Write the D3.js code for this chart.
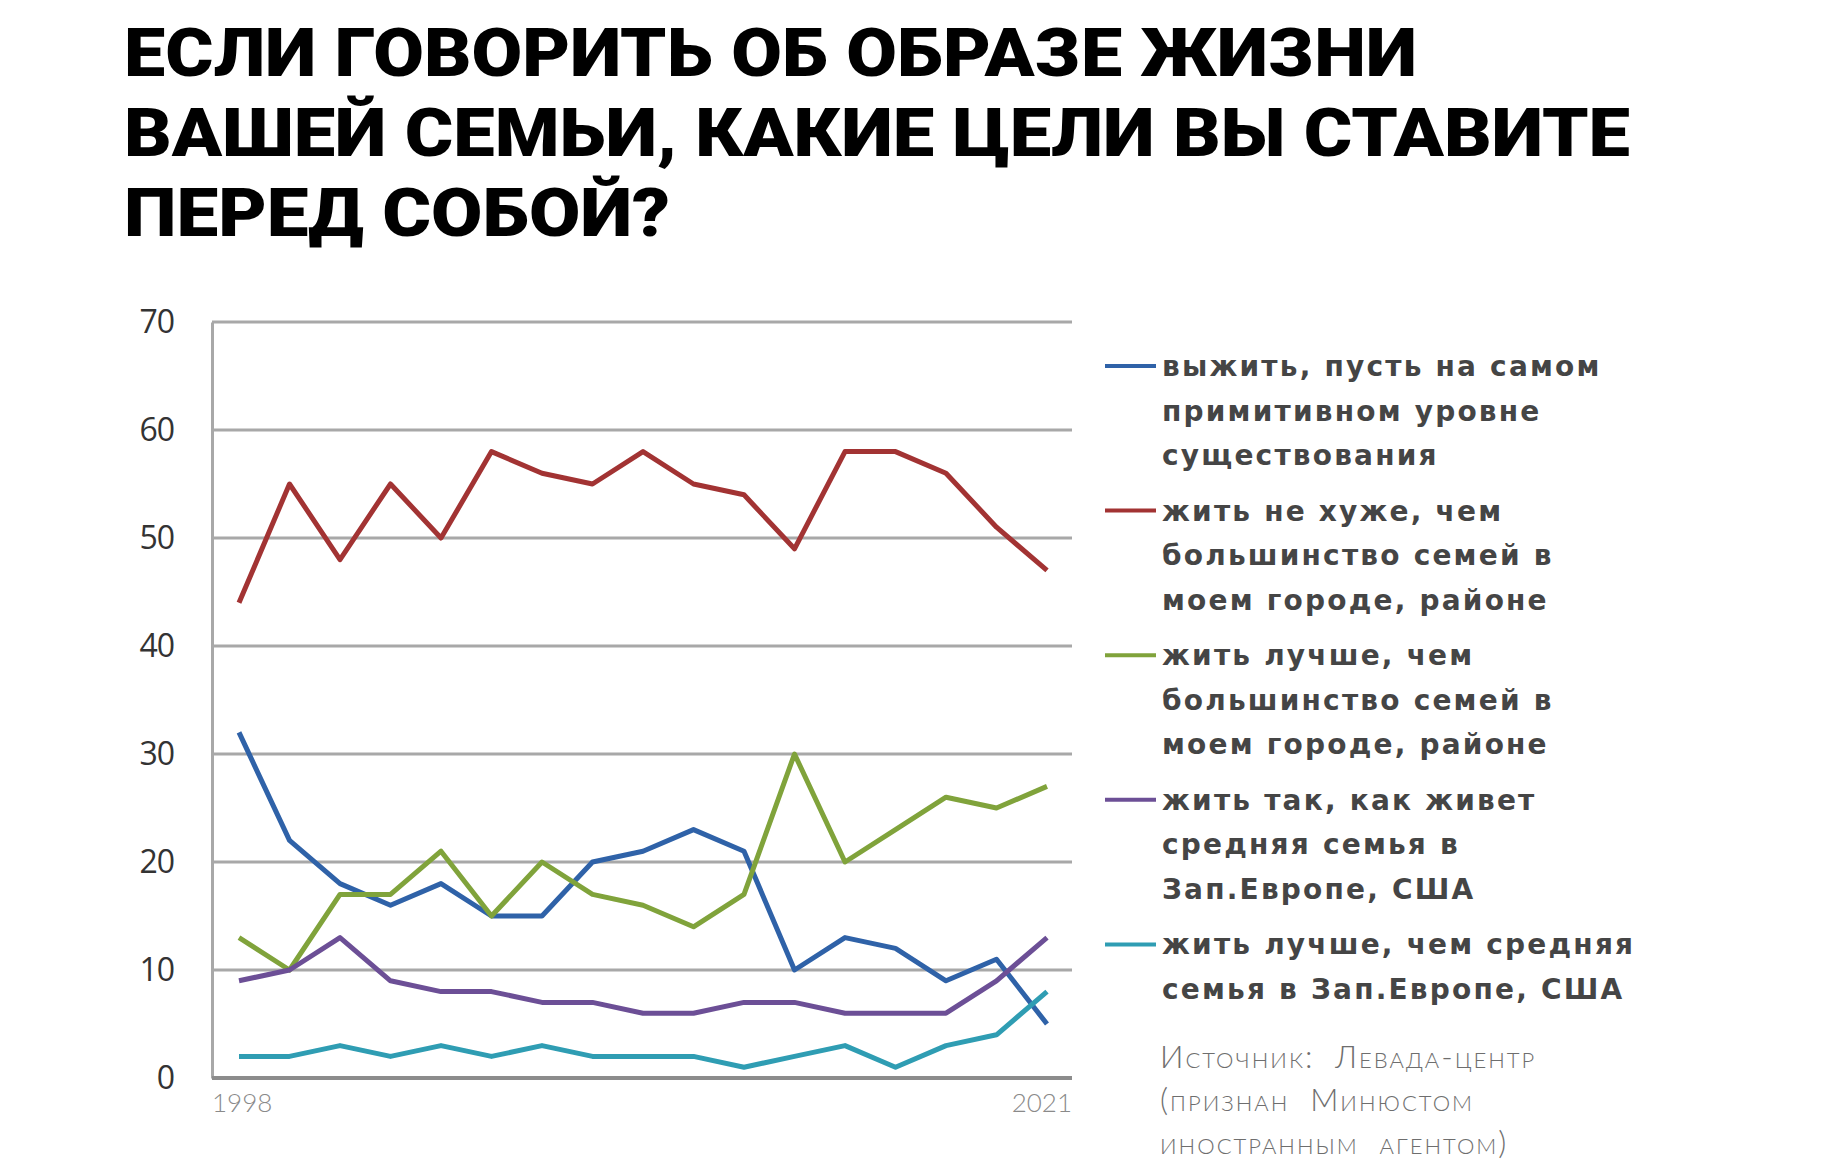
<!DOCTYPE html>
<html>
<head>
<meta charset="utf-8">
<script src="https://cdn.jsdelivr.net/npm/d3@7"></script>
<style>
  body { margin: 0; background: #fff; }
  svg { display: block; }
</style>
</head>
<body>
<script>
// survey waves from 1998 to 2021 (only the first and last are labelled)
var xLabels = ["1998", "", "", "", "", "", "", "", "", "", "", "", "", "", "", "", "2021"];
var yTicks = [0, 10, 20, 30, 40, 50, 60, 70];

var survive   = [32, 22, 18, 16, 18, 15, 15, 20, 21, 23, 21, 10, 13, 12, 9, 11, 5];
var notWorse  = [44, 55, 48, 55, 50, 58, 56, 55, 58, 55, 54, 49, 58, 58, 56, 51, 47];
var better    = [13, 10, 17, 17, 21, 15, 20, 17, 16, 14, 17, 30, 20, 23, 26, 25, 27];
var likeWest  = [9, 10, 13, 9, 8, 8, 7, 7, 6, 6, 7, 7, 6, 6, 6, 9, 13];
var betterWest = [2, 2, 3, 2, 3, 2, 3, 2, 2, 2, 1, 2, 3, 1, 3, 4, 8];

var titleLines = [
    "ЕСЛИ ГОВОРИТЬ ОБ ОБРАЗЕ ЖИЗНИ",
    "ВАШЕЙ СЕМЬИ, КАКИЕ ЦЕЛИ ВЫ СТАВИТЕ",
    "ПЕРЕД СОБОЙ?"
];
var titleWidths = [1293, 1506, 546];

var series = [
    {values: survive, color: "#2f62a8",
     label: ["выжить, пусть на самом", "примитивном уровне", "существования"]},
    {values: notWorse, color: "#a23333",
     label: ["жить не хуже, чем", "большинство семей в", "моем городе, районе"]},
    {values: better, color: "#80a33b",
     label: ["жить лучше, чем", "большинство семей в", "моем городе, районе"]},
    {values: likeWest, color: "#6c4f96",
     label: ["жить так, как живет", "средняя семья в", "Зап.Европе, США"]},
    {values: betterWest, color: "#2f9db3",
     label: ["жить лучше, чем средняя", "семья в Зап.Европе, США"]}
];

var sourceLines = ["Источник:  Левада-центр", "(признан  Минюстом", "иностранным  агентом)"];

var width = 1840, height = 1168;
var svg = d3.select("body").append("svg")
    .attr("width", width)
    .attr("height", height);

// title
svg.append("g").selectAll("text")
    .data(titleLines)
    .join("text")
    .attr("x", 124)
    .attr("y", (d, i) => 76 + i * 80)
    .attr("textLength", (d, i) => titleWidths[i])
    .attr("lengthAdjust", "spacingAndGlyphs")
    .attr("font-family", "Roboto, 'Liberation Sans', sans-serif")
    .attr("font-weight", 900)
    .attr("font-size", 66)
    .attr("fill", "#000")
    .text(d => d);

var plotLeft = 212, plotRight = 1072;
var x = d3.scalePoint()
    .domain(d3.range(xLabels.length))
    .range([239, 1047]);
var y = d3.scaleLinear()
    .domain([0, 70])
    .range([1078, 322]);

// gridlines
svg.append("g").selectAll("line")
    .data(yTicks.filter(d => d > 0))
    .join("line")
    .attr("x1", plotLeft)
    .attr("x2", plotRight)
    .attr("y1", d => y(d))
    .attr("y2", d => y(d))
    .attr("stroke", "#a8a8a8")
    .attr("stroke-width", 3);

// y axis
var yAxis = svg.append("g")
    .attr("transform", "translate(" + plotLeft + ",0)")
    .call(d3.axisLeft(y).tickValues(yTicks).tickSize(0).tickPadding(38));
yAxis.select(".domain")
    .attr("stroke", "#a8a8a8")
    .attr("stroke-width", 3);
yAxis.selectAll("text")
    .attr("font-family", "'Liberation Sans Narrow', 'Open Sans', sans-serif")
    .attr("font-size", 32)
    .attr("letter-spacing", -1)
    .attr("fill", "#333");

// bottom axis line
svg.append("line")
    .attr("x1", plotLeft)
    .attr("x2", plotRight)
    .attr("y1", y(0))
    .attr("y2", y(0))
    .attr("stroke", "#8c8c8c")
    .attr("stroke-width", 4);

// x labels
svg.append("g").selectAll("text")
    .data(xLabels.map((d, i) => ({label: d, i: i})).filter(d => d.label))
    .join("text")
    .attr("x", d => d.i === 0 ? plotLeft : plotRight)
    .attr("y", 1112)
    .attr("text-anchor", d => d.i === 0 ? "start" : "end")
    .attr("font-family", "Lato, 'Open Sans', sans-serif")
    .attr("font-weight", 300)
    .attr("font-size", 26)
    .attr("fill", "#8a8a8a")
    .text(d => d.label);

// lines
var line = d3.line()
    .x((d, i) => x(i))
    .y(d => y(d));

svg.append("g").selectAll("path")
    .data(series)
    .join("path")
    .attr("d", d => line(d.values))
    .attr("fill", "none")
    .attr("stroke", d => d.color)
    .attr("stroke-width", 5)
    .attr("stroke-linejoin", "round");

// legend
var legend = svg.append("g");
var entry = legend.selectAll("g")
    .data(series)
    .join("g")
    .attr("transform", (d, i) => "translate(1105," + (366 + i * 144.6) + ")");

entry.append("line")
    .attr("x1", 0)
    .attr("x2", 51)
    .attr("stroke", d => d.color)
    .attr("stroke-width", 4);

entry.append("text")
    .attr("font-family", "'DejaVu Sans', Verdana, sans-serif")
    .attr("font-weight", "bold")
    .attr("font-size", 28)
    .attr("letter-spacing", 2.2)
    .attr("fill", "#454545")
    .selectAll("tspan")
    .data(d => d.label)
    .join("tspan")
    .attr("x", 57)
    .attr("y", (d, i) => 10 + i * 44.6)
    .text(d => d);

// source note
svg.append("text")
    .attr("font-family", "Lato, 'Open Sans', sans-serif")
    .attr("font-weight", 300)
    .attr("font-size", 31)
    .attr("font-variant", "small-caps")
    .attr("letter-spacing", 2)
    .attr("fill", "#6e6e6e")
    .selectAll("tspan")
    .data(sourceLines)
    .join("tspan")
    .attr("x", 1160)
    .attr("y", (d, i) => 1068 + i * 43)
    .style("white-space", "pre")
    .text(d => d);
</script>
</body>
</html>
